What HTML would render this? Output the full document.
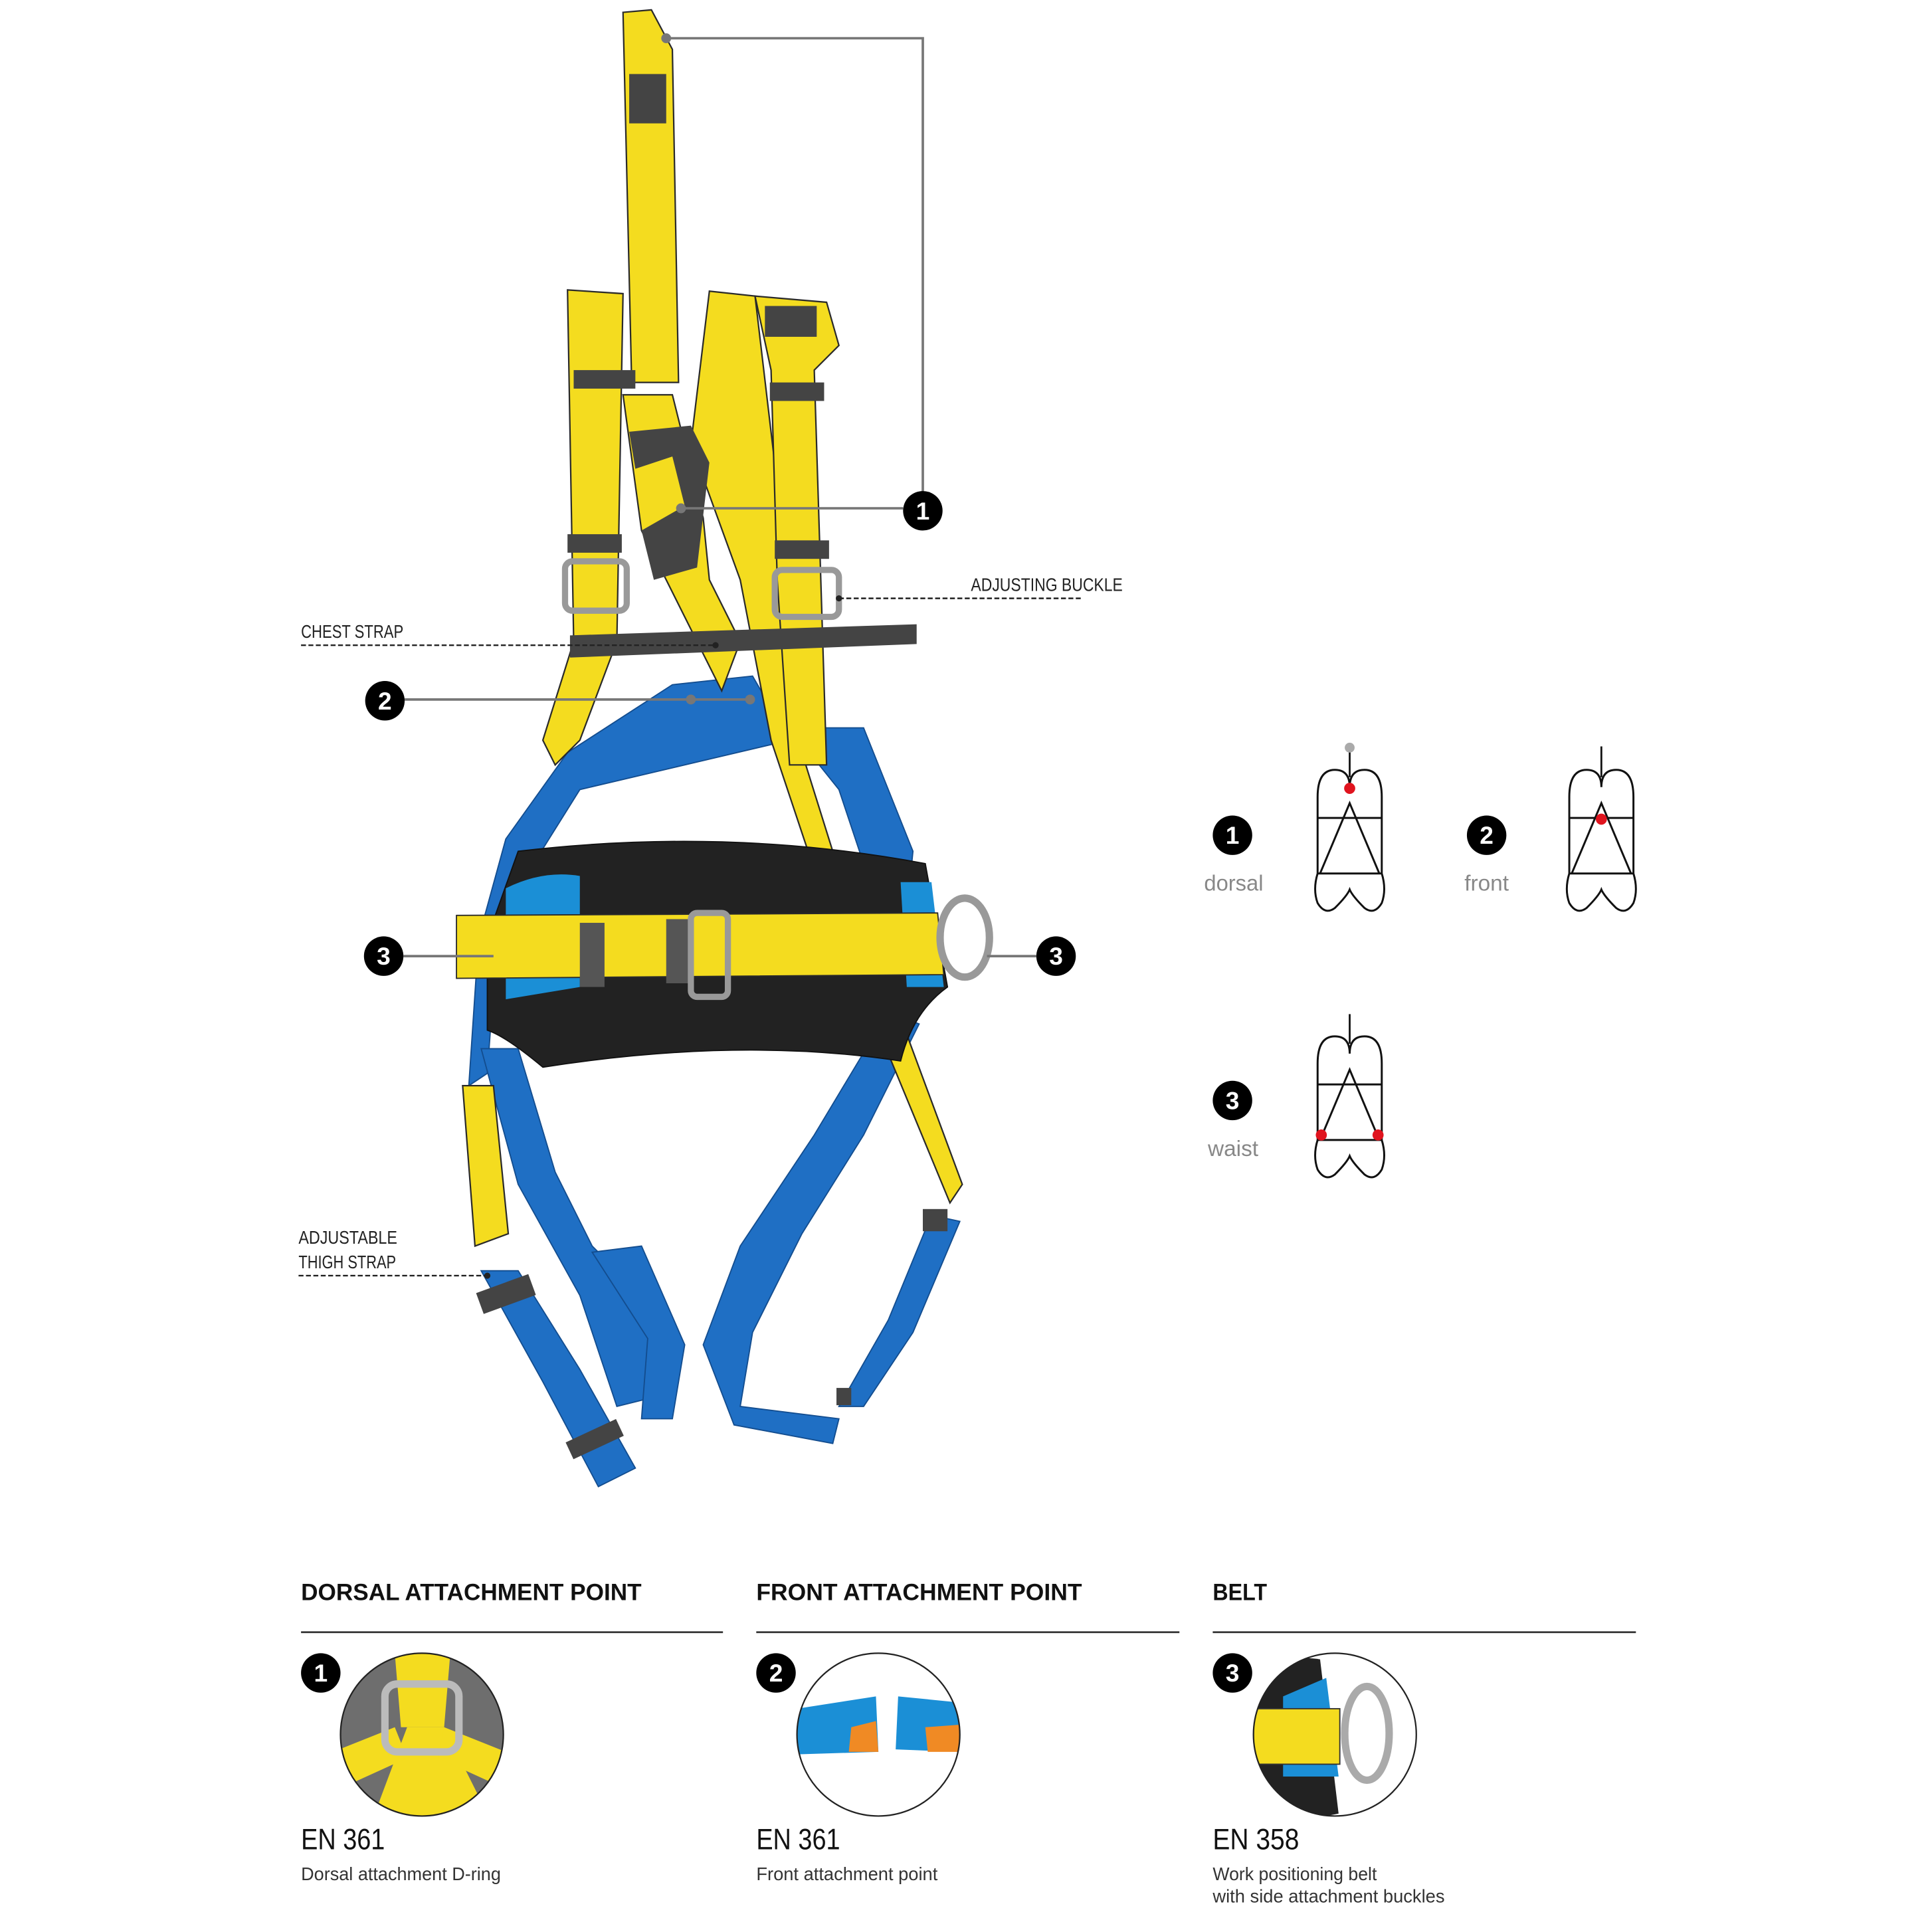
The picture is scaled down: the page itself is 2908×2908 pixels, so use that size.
<!DOCTYPE html>
<html><head><meta charset="utf-8"><style>
html,body{margin:0;padding:0;background:#fff}
svg{display:block}
text{font-family:"Liberation Sans",sans-serif}
</style></head><body>
<svg width="2908" height="2908" viewBox="0 0 1566 1566" xmlns="http://www.w3.org/2000/svg">
<rect width="1566" height="1566" fill="#fff"/>
<g fill="#1f6fc4" stroke="#134d8f" stroke-width="1">
<polygon points="545,555 610,548 640,600 470,640 420,720 400,800 395,870 380,880 388,760 410,680 460,610"/>
<polygon points="640,590 700,590 740,690 735,740 700,700 680,640"/>
<polygon points="390,850 420,850 450,950 480,1010 530,1060 540,1130 500,1140 470,1050 420,960"/>
<polygon points="720,820 745,830 700,920 650,1000 610,1080 600,1140 680,1150 675,1170 595,1155 570,1090 600,1010 660,920"/>
<polygon points="390,1030 420,1030 470,1110 515,1190 485,1205 440,1120"/>
<polygon points="755,985 778,990 740,1080 700,1140 680,1140 720,1070"/>
<polygon points="480,1015 520,1010 555,1090 545,1150 520,1150 525,1085"/>
</g>
<g fill="#f4dc1f" stroke="#2a2a2a" stroke-width="1.2">
<polygon points="505,10 528,8 545,40 550,310 512,310"/>
<polygon points="460,235 505,238 500,520 470,600 450,620 440,600 465,520"/>
<polygon points="575,236 612,240 645,520 650,610 675,690 655,690 625,600 600,470 560,360"/>
<polygon points="612,240 670,245 680,280 660,300 670,620 640,620 630,470 625,300"/>
<polygon points="505,320 545,320 570,420 575,470 600,520 585,560 555,500 520,430"/>
<polygon points="375,880 400,880 412,1000 385,1010"/>
<polygon points="710,830 730,825 780,960 770,975"/>
</g>
<g fill="#444">
<rect x="510" y="60" width="30" height="40"/>
<rect x="620" y="248" width="42" height="25"/>
<rect x="465" y="300" width="50" height="15"/>
<rect x="624" y="310" width="44" height="15"/>
<rect x="460" y="433" width="44" height="15"/>
<rect x="628" y="438" width="44" height="15"/>
<polygon points="510,350 560,345 575,375 565,460 530,470 520,430 555,410 545,370 515,380"/>
<polygon points="462,515 743,506 743,522 462,533"/>
<rect x="388" y="1040" width="45" height="18" transform="rotate(-20 410 1050)"/>
<rect x="460" y="1160" width="45" height="15" transform="rotate(-25 480 1168)"/>
<rect x="748" y="980" width="20" height="18"/>
<rect x="678" y="1125" width="12" height="14"/>
</g>
<path d="M420,690 Q590,670 750,700 L768,800 Q740,820 730,860 Q600,840 440,865 Q410,840 395,835 L395,760 Z" fill="#222" stroke="#111"/>
<path d="M410,720 Q440,705 470,710 L470,800 L410,810 Z" fill="#1b8fd6"/>
<path d="M730,715 L755,715 L765,800 L735,800 Z" fill="#1b8fd6"/>
<polygon points="370,742 760,740 765,790 370,793" fill="#f4dc1f" stroke="#2a2a2a"/>
<rect x="470" y="748" width="20" height="52" fill="#555"/>
<rect x="540" y="745" width="18" height="52" fill="#555"/>
<rect x="560" y="740" width="30" height="68" rx="5" fill="none" stroke="#999" stroke-width="5"/>
<ellipse cx="782" cy="760" rx="20" ry="32" fill="none" stroke="#999" stroke-width="6"/>
<rect x="458" y="455" width="50" height="40" rx="6" fill="none" stroke="#999" stroke-width="5"/>
<rect x="628" y="462" width="52" height="38" rx="6" fill="none" stroke="#999" stroke-width="5"/>
<g stroke="#777" stroke-width="2" fill="none">
<polyline points="540,31 748,31 748,400"/>
<line x1="552" y1="412" x2="732" y2="412"/>
<line x1="328" y1="567" x2="608" y2="567"/>
<line x1="327" y1="775" x2="400" y2="775"/>
<line x1="800" y1="775" x2="840" y2="775"/>
</g>
<g fill="#777"><circle cx="540" cy="31" r="4"/><circle cx="552" cy="412" r="4"/><circle cx="608" cy="567" r="4"/><circle cx="560" cy="567" r="4"/></g>
<g stroke="#222" stroke-width="1.3" stroke-dasharray="4,2" fill="none">
<line x1="680" y1="485" x2="878" y2="485"/>
<line x1="244" y1="523" x2="580" y2="523"/>
<line x1="242" y1="1034" x2="395" y2="1034"/>
</g>
<g fill="#222"><circle cx="680" cy="485" r="2.5"/><circle cx="580" cy="523" r="2.5"/><circle cx="395" cy="1034" r="2.5"/></g>
<g font-size="15" fill="#222">
<text x="787" y="479" textLength="123" lengthAdjust="spacingAndGlyphs">ADJUSTING BUCKLE</text>
<text x="244" y="517" textLength="83" lengthAdjust="spacingAndGlyphs">CHEST STRAP</text>
<text x="242" y="1008" textLength="80" lengthAdjust="spacingAndGlyphs">ADJUSTABLE</text>
<text x="242" y="1028" textLength="79" lengthAdjust="spacingAndGlyphs">THIGH STRAP</text>
</g>
<g font-size="20" font-weight="bold" fill="#fff" text-anchor="middle">
<circle cx="748" cy="414" r="16" fill="#000"/><text x="748" y="421">1</text>
<circle cx="312" cy="568" r="16" fill="#000"/><text x="312" y="575">2</text>
<circle cx="311" cy="775" r="16" fill="#000"/><text x="311" y="782">3</text>
<circle cx="856" cy="775" r="16" fill="#000"/><text x="856" y="782">3</text>
<circle cx="999" cy="677" r="16" fill="#000"/><text x="999" y="684">1</text>
<circle cx="1205" cy="677" r="16" fill="#000"/><text x="1205" y="684">2</text>
<circle cx="999" cy="892" r="16" fill="#000"/><text x="999" y="899">3</text>
<circle cx="260" cy="1356" r="16" fill="#000"/><text x="260" y="1363">1</text>
<circle cx="629" cy="1356" r="16" fill="#000"/><text x="629" y="1363">2</text>
<circle cx="999" cy="1356" r="16" fill="#000"/><text x="999" y="1363">3</text>
</g>
<g font-size="18" fill="#888">
<text x="976" y="722" textLength="48" lengthAdjust="spacingAndGlyphs">dorsal</text>
<text x="1187" y="722" textLength="36" lengthAdjust="spacingAndGlyphs">front</text>
<text x="979" y="937" textLength="41" lengthAdjust="spacingAndGlyphs">waist</text>
</g>
<defs>
<g id="body" fill="none" stroke="#111" stroke-width="1.6">
<path d="M-26,0 Q-26,-22 -12,-22 Q0,-22 0,-8 Q0,-22 12,-22 Q26,-22 26,0 L26,62 Q30,75 26,86 Q20,96 12,90 Q2,80 0,75 Q-2,80 -12,90 Q-20,96 -26,86 Q-30,75 -26,62 Z"/>
<line x1="-26" y1="17" x2="26" y2="17"/><line x1="-26" y1="62" x2="26" y2="62"/>
<polyline points="-24,62 0,5 24,62"/>
</g>
</defs>
<use href="#body" x="1094" y="646"/>
<line x1="1094" y1="606" x2="1094" y2="630" stroke="#111" stroke-width="1.5"/><circle cx="1094" cy="606" r="4" fill="#aaa"/><circle cx="1094" cy="639" r="4.5" fill="#e0141e"/>
<use href="#body" x="1298" y="646"/>
<line x1="1298" y1="605" x2="1298" y2="630" stroke="#111" stroke-width="1.5"/><circle cx="1298" cy="664" r="4.5" fill="#e0141e"/>
<use href="#body" x="1094" y="862"/>
<line x1="1094" y1="822" x2="1094" y2="846" stroke="#111" stroke-width="1.5"/><circle cx="1071" cy="920" r="4.5" fill="#e0141e"/><circle cx="1117" cy="920" r="4.5" fill="#e0141e"/>
<g font-size="19" font-weight="bold" fill="#111">
<text x="244" y="1297" textLength="276" lengthAdjust="spacingAndGlyphs">DORSAL ATTACHMENT POINT</text>
<text x="613" y="1297" textLength="264" lengthAdjust="spacingAndGlyphs">FRONT ATTACHMENT POINT</text>
<text x="983" y="1297" textLength="44" lengthAdjust="spacingAndGlyphs">BELT</text>
</g>
<g stroke="#333" stroke-width="1.5">
<line x1="244" y1="1323" x2="586" y2="1323"/><line x1="613" y1="1323" x2="956" y2="1323"/><line x1="983" y1="1323" x2="1326" y2="1323"/>
</g>
<defs>
<clipPath id="c1"><circle cx="342" cy="1406" r="66"/></clipPath>
<clipPath id="c2"><circle cx="712" cy="1406" r="66"/></clipPath>
<clipPath id="c3"><circle cx="1082" cy="1406" r="66"/></clipPath>
</defs>
<g clip-path="url(#c1)">
<rect x="270" y="1340" width="140" height="140" fill="#6e6e6e"/>
<polygon points="320,1340 365,1340 360,1400 325,1400" fill="#f4dc1f"/>
<polygon points="300,1480 330,1400 360,1400 400,1480" fill="#f4dc1f"/>
<polygon points="270,1420 320,1400 330,1425 275,1450" fill="#f4dc1f"/>
<polygon points="410,1420 360,1400 355,1425 410,1450" fill="#f4dc1f"/>
<rect x="312" y="1365" width="60" height="55" rx="10" fill="none" stroke="#bbb" stroke-width="6"/>
</g>
<circle cx="342" cy="1406" r="66" fill="none" stroke="#222" stroke-width="1.2"/>
<g clip-path="url(#c2)">
<polygon points="646,1385 710,1375 712,1420 646,1422" fill="#1b8fd6"/>
<polygon points="728,1375 778,1380 778,1420 726,1418" fill="#1b8fd6"/>
<polygon points="690,1400 710,1395 712,1420 688,1420" fill="#f08a24"/>
<polygon points="750,1400 778,1398 778,1420 752,1420" fill="#f08a24"/>
</g>
<circle cx="712" cy="1406" r="66" fill="none" stroke="#222" stroke-width="1.2"/>
<g clip-path="url(#c3)">
<path d="M1016,1360 Q1040,1340 1070,1345 L1085,1470 Q1040,1480 1016,1450 Z" fill="#222"/>
<path d="M1040,1375 L1075,1360 L1085,1440 L1040,1440 Z" fill="#1b8fd6"/>
<rect x="1016" y="1385" width="70" height="45" fill="#f4dc1f" stroke="#333"/>
<ellipse cx="1108" cy="1405" rx="18" ry="38" fill="none" stroke="#aaa" stroke-width="6"/>
</g>
<circle cx="1082" cy="1406" r="66" fill="none" stroke="#222" stroke-width="1.2"/>
<g font-size="24" fill="#111">
<text x="244" y="1499" textLength="68" lengthAdjust="spacingAndGlyphs">EN 361</text>
<text x="613" y="1499" textLength="68" lengthAdjust="spacingAndGlyphs">EN 361</text>
<text x="983" y="1499" textLength="70" lengthAdjust="spacingAndGlyphs">EN 358</text>
</g>
<g font-size="15" fill="#333">
<text x="244" y="1524" textLength="162" lengthAdjust="spacingAndGlyphs">Dorsal attachment D-ring</text>
<text x="613" y="1524" textLength="147" lengthAdjust="spacingAndGlyphs">Front attachment point</text>
<text x="983" y="1524" textLength="133" lengthAdjust="spacingAndGlyphs">Work positioning belt</text>
<text x="983" y="1542" textLength="188" lengthAdjust="spacingAndGlyphs">with side attachment buckles</text>
</g>
</svg>
</body></html>
